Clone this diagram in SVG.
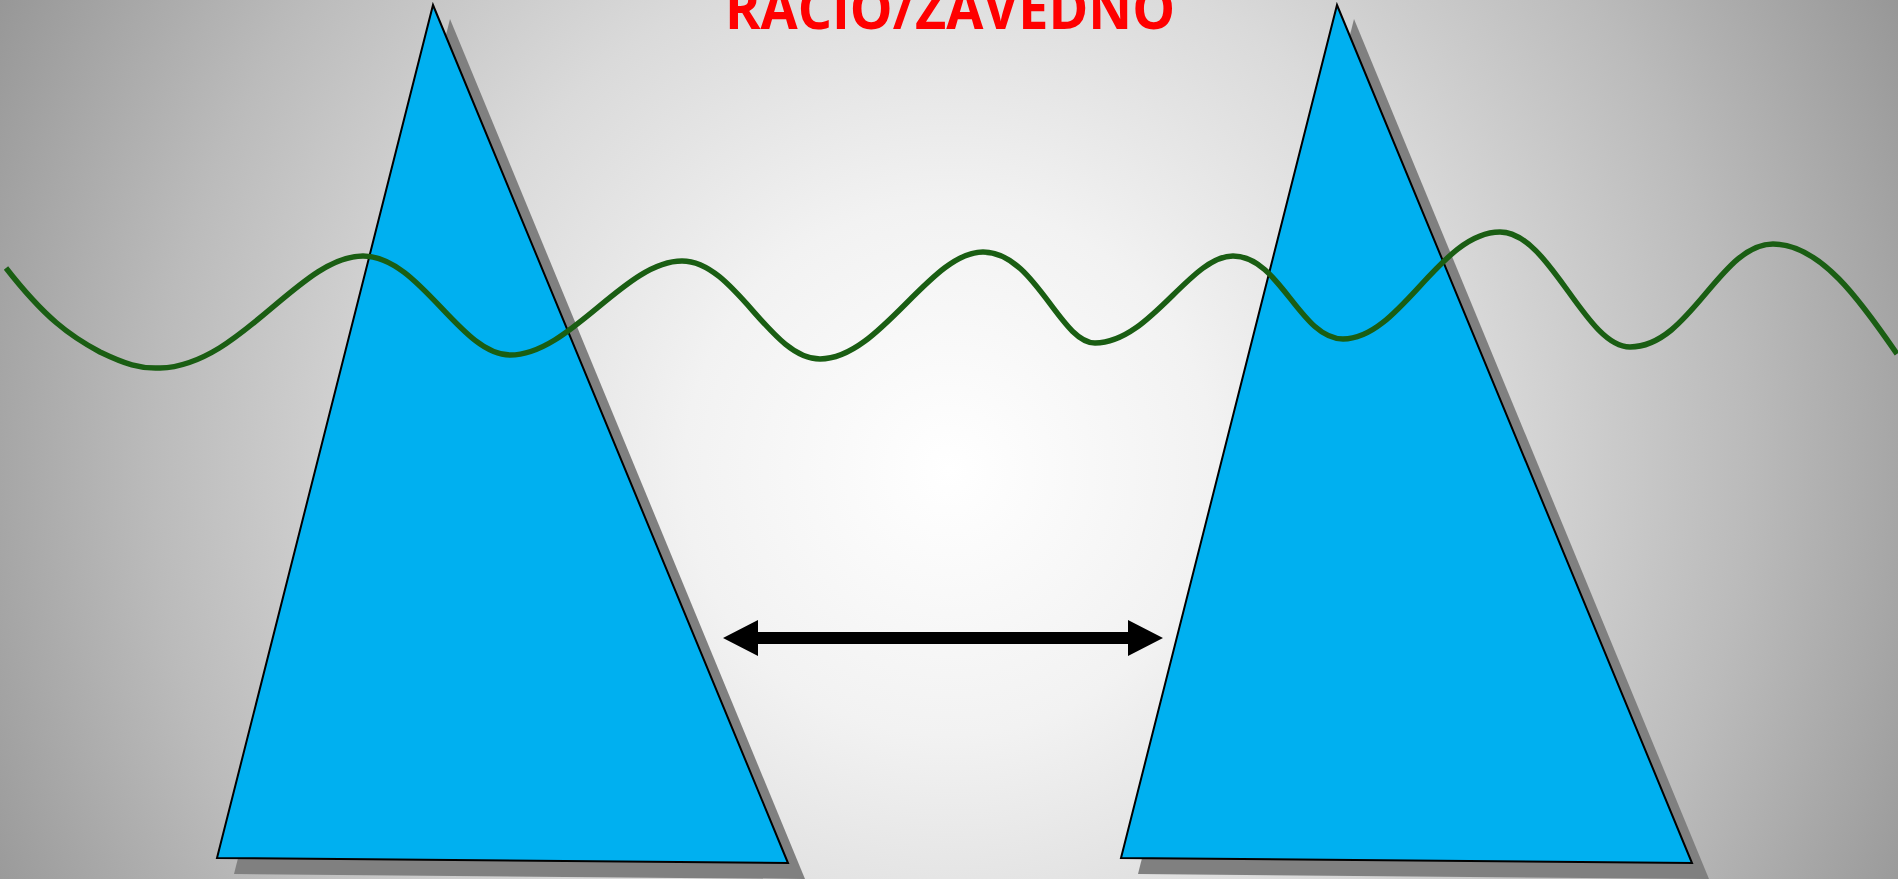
<svg xmlns="http://www.w3.org/2000/svg" width="1898" height="879" viewBox="0 0 1898 879">
  <defs>
    <radialGradient id="bg" gradientUnits="userSpaceOnUse" cx="949" cy="470" r="1060">
      <stop offset="0" stop-color="#ffffff"/>
      <stop offset="0.25" stop-color="#f2f2f2"/>
      <stop offset="0.5" stop-color="#dadada"/>
      <stop offset="0.75" stop-color="#bbbbbb"/>
      <stop offset="1" stop-color="#979797"/>
    </radialGradient>
    <style>
      .shadow { fill: #808080; }
      .tri { fill: #00b0f0; stroke: #000000; stroke-width: 2; stroke-linejoin: miter; }
      .wave { fill: none; stroke: #1a5e13; stroke-width: 5.5; stroke-linecap: butt; }
      .arrow { fill: #000000; }
      .title { font-family: "Open Sans", "Liberation Sans", sans-serif; font-weight: bold; font-size: 58px; fill: #ff0000; }
    </style>
  </defs>

  <rect id="background" x="0" y="0" width="1898" height="879" fill="url(#bg)"/>

  <g id="title">
    <text class="title" x="725" y="29" textLength="450" lengthAdjust="spacingAndGlyphs">RACIO/ZAVEDNO</text>
  </g>

  <g id="triangle-left">
    <polygon class="shadow" points="450,19 805,879 234,874"/>
    <polygon class="tri" points="433,5 788,863 217,858"/>
  </g>

  <g id="triangle-right">
    <polygon class="shadow" points="1354,19 1709,879 1138,874"/>
    <polygon class="tri" points="1337,5 1692,863 1121,858"/>
  </g>

  <g id="wave">
    <path class="wave" d="M6,268 C45,318 70,336 100,352 C125,364 140,369 160,368 C240,366 300,256 363,256 C420,256 460,355 510,355 C570,355 625,261 682,261 C735,261 770,359 820,359 C880,359 930,252 983,252 C1035,252 1060,343 1095,343 C1150,343 1190,256 1233,256 C1280,256 1300,339 1343,339 C1400,339 1440,232 1500,232 C1550,232 1585,347 1630,347 C1690,347 1720,244 1773,244 C1820,244 1860,300 1897,354"/>
  </g>

  <g id="connectors">
    <path class="arrow" d="M723,638 L758,620 L758,632 L1128,632 L1128,620 L1163,638 L1128,656 L1128,644 L758,644 L758,656 Z"/>
  </g>
</svg>
